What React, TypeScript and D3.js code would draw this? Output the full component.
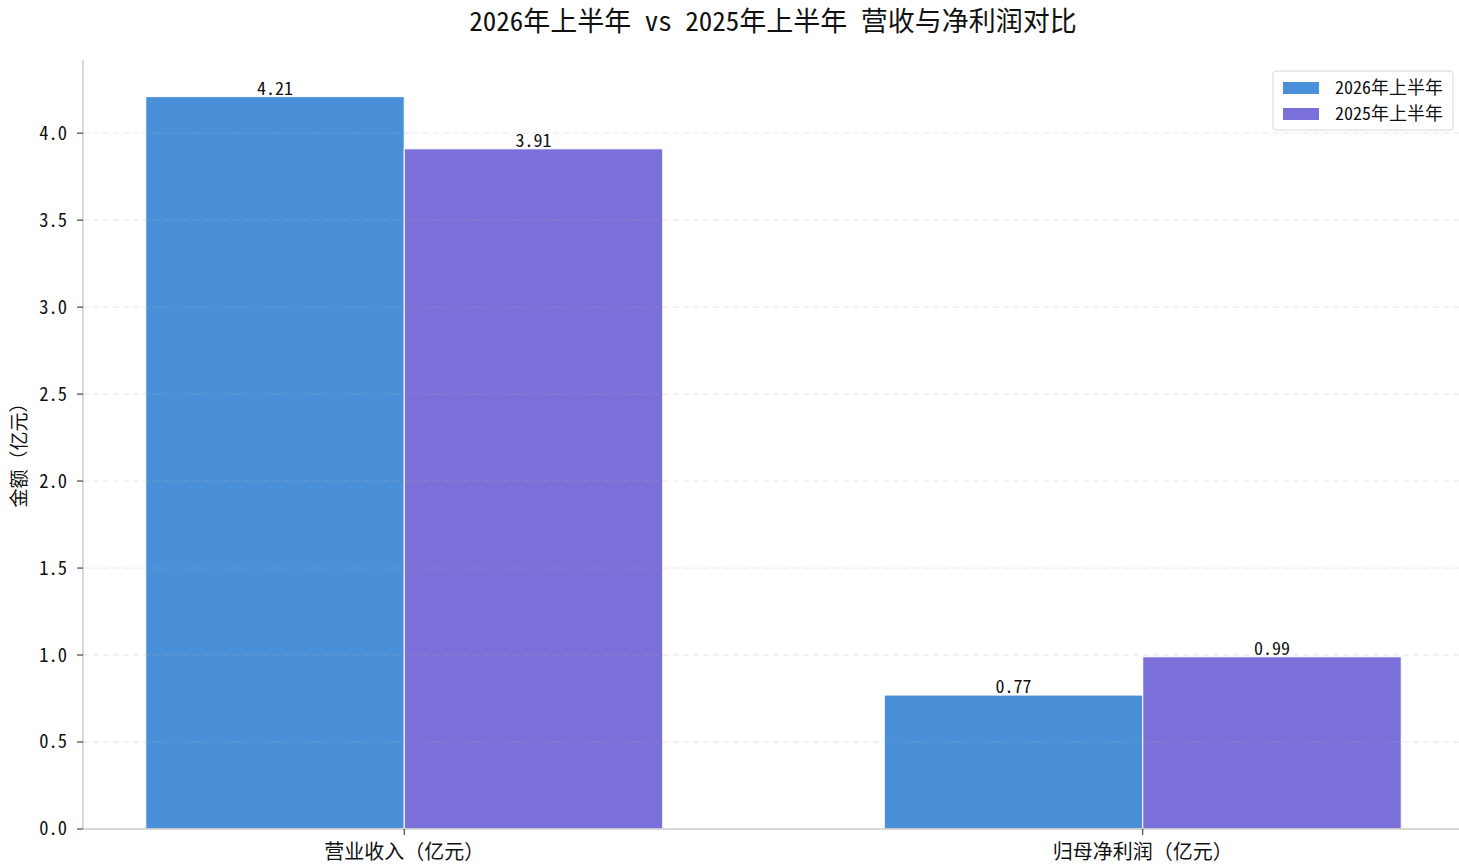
import React, { useEffect, useRef } from "react";
import * as d3 from "d3";

const categories = ["营业收入（亿元）", "归母净利润（亿元）"];
const seriesNames = ["2026年上半年", "2025年上半年"];
const values2026 = [4.21, 0.77];
const values2025 = [3.91, 0.99];
const yTicks = [0, 0.5, 1, 1.5, 2, 2.5, 3, 3.5, 4];
const colors = ["#4A90D9", "#7B6FD9"];

// half-width latin like SimHei
const FONT = "'Noto Sans Mono CJK SC', 'Noto Sans CJK SC', 'DejaVu Sans', sans-serif";

function drawChart(node: SVGSVGElement) {
  const W = 1459;
  const left = 83;
  const top = 60;
  const bottom = 829;
  const barW = 0.35;

  const svg = d3.select(node);
  svg.selectAll("*").remove();

  // x in category units, matplotlib style margins
  const x = d3.scaleLinear().domain([-0.435, 1.435]).range([left, 1464]);
  const y = d3.scaleLinear().domain([0, 4.4205]).range([bottom, top]);

  const series = [values2026, values2025];

  // bars
  series.forEach((vals, si) => {
    const offset = si === 0 ? -barW : 0;
    svg
      .append("g")
      .selectAll("rect")
      .data(vals)
      .enter()
      .append("rect")
      .attr("x", (_d, i) => x(i + offset))
      .attr("y", (d) => y(d))
      .attr("width", x(barW) - x(0))
      .attr("height", (d) => y(0) - y(d))
      .attr("fill", colors[si])
      .attr("stroke", "white")
      .attr("stroke-width", 1);

    svg
      .append("g")
      .selectAll("text")
      .data(vals)
      .enter()
      .append("text")
      .attr("x", (_d, i) => x(i + offset + barW / 2))
      .attr("y", (d) => y(d) - 2)
      .attr("text-anchor", "middle")
      .style("font-family", FONT)
      .style("font-size", "18px")
      .attr("fill", "#111")
      .text((d) => d.toFixed(2));
  });

  // grid lines on top
  svg
    .append("g")
    .selectAll("line")
    .data(yTicks.filter((t) => t > 0))
    .enter()
    .append("line")
    .attr("x1", left)
    .attr("x2", W)
    .attr("y1", (d) => y(d))
    .attr("y2", (d) => y(d))
    .attr("stroke", "#b0b0b0")
    .attr("stroke-opacity", 0.3)
    .attr("stroke-dasharray", "6,4")
    .attr("stroke-width", 1);

  // spines
  svg
    .append("line")
    .attr("x1", left)
    .attr("x2", left)
    .attr("y1", top)
    .attr("y2", bottom)
    .attr("stroke", "#cccccc")
    .attr("stroke-width", 1.5);
  svg
    .append("line")
    .attr("x1", left)
    .attr("x2", W)
    .attr("y1", bottom)
    .attr("y2", bottom)
    .attr("stroke", "#cccccc")
    .attr("stroke-width", 1.5);

  // y ticks
  const yt = svg.append("g");
  yTicks.forEach((t) => {
    yt.append("line")
      .attr("x1", left - 6)
      .attr("x2", left)
      .attr("y1", y(t))
      .attr("y2", y(t))
      .attr("stroke", "#222")
      .attr("stroke-width", 1);
    yt.append("text")
      .attr("x", left - 16)
      .attr("y", y(t))
      .attr("dy", "0.35em")
      .attr("text-anchor", "end")
      .style("font-family", FONT)
      .style("font-size", "18.5px")
      .attr("fill", "#111")
      .text(t.toFixed(1));
  });

  // x ticks
  categories.forEach((c, i) => {
    svg
      .append("line")
      .attr("x1", x(i))
      .attr("x2", x(i))
      .attr("y1", bottom)
      .attr("y2", bottom + 6)
      .attr("stroke", "#222")
      .attr("stroke-width", 1);
    svg
      .append("text")
      .attr("x", x(i))
      .attr("y", bottom + 30)
      .attr("text-anchor", "middle")
      .style("font-family", FONT)
      .style("font-size", "20px")
      .attr("fill", "#111")
      .text(c);
  });

  // y label
  svg
    .append("text")
    .attr("transform", `translate(26,${(top + bottom) / 2 + 6})rotate(-90)`)
    .attr("text-anchor", "middle")
    .style("font-family", FONT)
    .style("font-size", "19px")
    .attr("fill", "#111")
    .text("金额（亿元）");

  // title
  svg
    .append("text")
    .attr("x", 773)
    .attr("y", 31)
    .attr("text-anchor", "middle")
    .style("font-family", FONT)
    .style("font-size", "27px")
    .attr("fill", "#111")
    .text("2026年上半年 vs 2025年上半年 营收与净利润对比");

  // legend
  const lg = svg.append("g").attr("transform", "translate(1273,71)");
  lg.append("rect")
    .attr("width", 180)
    .attr("height", 59)
    .attr("rx", 3)
    .attr("fill", "white")
    .attr("fill-opacity", 0.8)
    .attr("stroke", "#d6d6d6");
  seriesNames.forEach((n, i) => {
    lg.append("rect")
      .attr("x", 10)
      .attr("y", 11 + i * 26)
      .attr("width", 36)
      .attr("height", 12)
      .attr("fill", colors[i]);
    lg.append("text")
      .attr("x", 62)
      .attr("y", 17 + i * 26)
      .attr("dy", "0.35em")
      .style("font-family", FONT)
      .style("font-size", "18px")
      .attr("fill", "#111")
      .text(n);
  });
}

const App = () => {
  const ref = useRef<SVGSVGElement>(null);
  useEffect(() => {
    if (ref.current) drawChart(ref.current);
  }, []);
  return (
    <svg
      ref={ref}
      width={1459}
      height={867}
      style={{ position: "absolute", left: 0, top: 0, background: "white" }}
    />
  );
};

export default App;
